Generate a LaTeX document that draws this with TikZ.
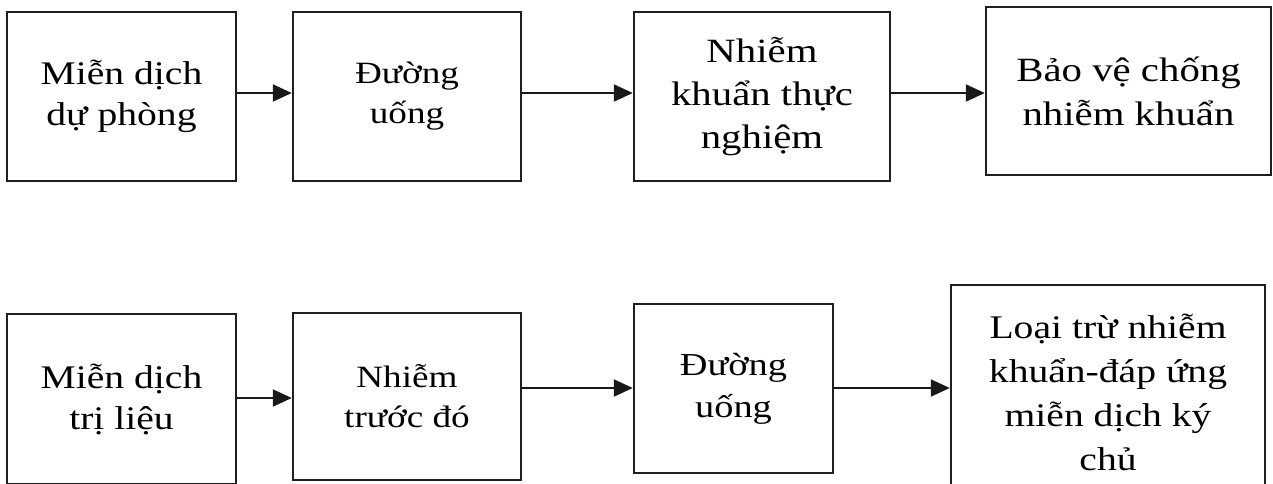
\documentclass[tikz,border=0pt]{standalone}
\usepackage{fontspec}
\setmainfont[FakeStretch=1.2]{Liberation Serif}
\usetikzlibrary{arrows.meta}
\tikzset{
  box/.style={draw=black!88, line width=2.4pt, rectangle, inner sep=0pt, align=center,
    font=\fontsize{33}{41}\selectfont},
  smallbox/.style={box, font=\fontsize{31}{40}\selectfont},
  arr/.style={draw=black!90, line width=2pt, -{Triangle[length=19pt,width=17pt]}}
}
\begin{document}
\begin{tikzpicture}[x=1pt,y=-1pt]
\useasboundingbox (0,0) rectangle (1273,483);
% top row
\node[box, minimum width=229pt, minimum height=169pt] (b1) at (121.5,96.5) {Miễn dịch\\dự phòng};
\node[smallbox, minimum width=228pt, minimum height=169pt] (b2) at (407,96.5) {Đường\\uống};
\node[box, font=\fontsize{34}{43}\selectfont, minimum width=256pt, minimum height=169pt] (b3) at (762,96.5) {Nhiễm\\khuẩn thực\\nghiệm};
\node[box, font=\fontsize{34}{44}\selectfont, minimum width=285pt, minimum height=168pt] (b4) at (1128.5,91) {Bảo vệ chống\\nhiễm khuẩn};
% bottom row
\node[box, minimum width=229pt, minimum height=170pt] (b5) at (121.5,399) {Miễn dịch\\trị liệu};
\node[smallbox, minimum width=228pt, minimum height=167pt] (b6) at (407,396.5) {Nhiễm\\trước đó};
\node[smallbox, font=\fontsize{32}{42}\selectfont, minimum width=199pt, minimum height=169pt] (b7) at (733.5,388.5) {Đường\\uống};
\node[box, font=\fontsize{33}{44}\selectfont, minimum width=314pt, minimum height=214pt] (b8) at (1108,392) {Loại trừ nhiễm\\khuẩn-đáp ứng\\miễn dịch ký\\chủ};
% rows for connectors
\coordinate (r1) at (0,93);
\coordinate (r2) at (0,398);
\coordinate (r3) at (0,388);
\draw[arr] (b1.east |- r1) -- (b2.west |- r1);
\draw[arr] (b2.east |- r1) -- (b3.west |- r1);
\draw[arr] (b3.east |- r1) -- (b4.west |- r1);
\draw[arr] (b5.east |- r2) -- (b6.west |- r2);
\draw[arr] (b6.east |- r3) -- (b7.west |- r3);
\draw[arr] (b7.east |- r3) -- (b8.west |- r3);
\end{tikzpicture}
\end{document}
